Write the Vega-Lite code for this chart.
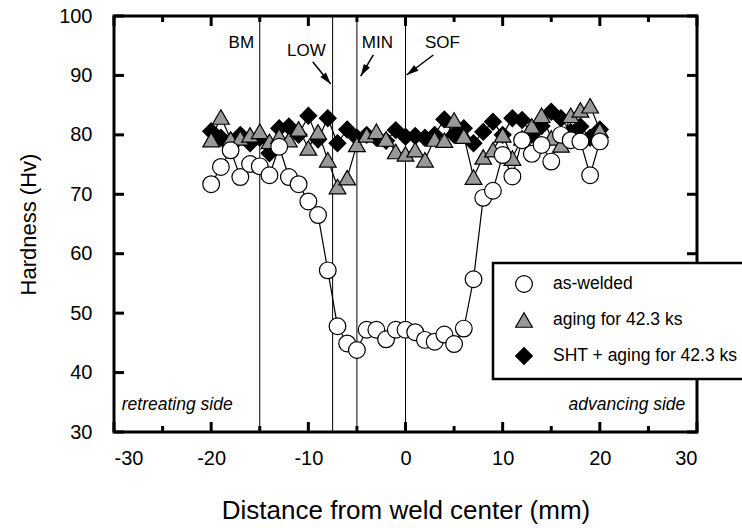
{
  "$schema": "https://vega.github.io/schema/vega-lite/v6.json",
  "width": 583,
  "height": 416,
  "autosize": {"type": "none"},
  "padding": {"left": 114, "top": 16, "right": 45, "bottom": 96},
  "background": "white",
  "config": {
    "font": "Liberation Sans",
    "view": {"stroke": "black", "strokeWidth": 3},
    "legend": {"strokeWidth": 2.5},
    "axis": {
      "domain": false, "grid": false, "ticks": false,
      "labelColor": "black", "titleColor": "black", "labelFont": "Liberation Sans",
      "titleFont": "Liberation Sans", "titleFontWeight": "normal", "labelFontSize": 20, "titleFontSize": 23
    }
  },
  "datasets": {
    "hardness": [
      {"series": "SHT + aging for 42.3 ks", "x": -20, "hv": 80.6},
      {"series": "SHT + aging for 42.3 ks", "x": -19, "hv": 79.5},
      {"series": "SHT + aging for 42.3 ks", "x": -18, "hv": 79.0},
      {"series": "SHT + aging for 42.3 ks", "x": -17, "hv": 80.0},
      {"series": "SHT + aging for 42.3 ks", "x": -16, "hv": 78.6},
      {"series": "SHT + aging for 42.3 ks", "x": -15, "hv": 79.5},
      {"series": "SHT + aging for 42.3 ks", "x": -14, "hv": 76.9},
      {"series": "SHT + aging for 42.3 ks", "x": -13, "hv": 81.1},
      {"series": "SHT + aging for 42.3 ks", "x": -12, "hv": 81.4},
      {"series": "SHT + aging for 42.3 ks", "x": -11, "hv": 80.0},
      {"series": "SHT + aging for 42.3 ks", "x": -10, "hv": 83.2},
      {"series": "SHT + aging for 42.3 ks", "x": -9, "hv": 79.2},
      {"series": "SHT + aging for 42.3 ks", "x": -8, "hv": 82.8},
      {"series": "SHT + aging for 42.3 ks", "x": -7, "hv": 78.6},
      {"series": "SHT + aging for 42.3 ks", "x": -6, "hv": 80.9},
      {"series": "SHT + aging for 42.3 ks", "x": -5, "hv": 79.5},
      {"series": "SHT + aging for 42.3 ks", "x": -4, "hv": 80.0},
      {"series": "SHT + aging for 42.3 ks", "x": -3, "hv": 79.5},
      {"series": "SHT + aging for 42.3 ks", "x": -2, "hv": 79.0},
      {"series": "SHT + aging for 42.3 ks", "x": -1, "hv": 80.8},
      {"series": "SHT + aging for 42.3 ks", "x": 0, "hv": 79.7},
      {"series": "SHT + aging for 42.3 ks", "x": 1, "hv": 79.8},
      {"series": "SHT + aging for 42.3 ks", "x": 2, "hv": 79.5},
      {"series": "SHT + aging for 42.3 ks", "x": 3, "hv": 80.0},
      {"series": "SHT + aging for 42.3 ks", "x": 4, "hv": 82.6},
      {"series": "SHT + aging for 42.3 ks", "x": 5, "hv": 80.0},
      {"series": "SHT + aging for 42.3 ks", "x": 6, "hv": 81.1},
      {"series": "SHT + aging for 42.3 ks", "x": 7, "hv": 78.6},
      {"series": "SHT + aging for 42.3 ks", "x": 8, "hv": 80.5},
      {"series": "SHT + aging for 42.3 ks", "x": 9, "hv": 82.2},
      {"series": "SHT + aging for 42.3 ks", "x": 10, "hv": 80.0},
      {"series": "SHT + aging for 42.3 ks", "x": 11, "hv": 82.8},
      {"series": "SHT + aging for 42.3 ks", "x": 12, "hv": 82.5},
      {"series": "SHT + aging for 42.3 ks", "x": 13, "hv": 80.0},
      {"series": "SHT + aging for 42.3 ks", "x": 14, "hv": 81.5},
      {"series": "SHT + aging for 42.3 ks", "x": 15, "hv": 83.9},
      {"series": "SHT + aging for 42.3 ks", "x": 16, "hv": 82.8},
      {"series": "SHT + aging for 42.3 ks", "x": 17, "hv": 80.5},
      {"series": "SHT + aging for 42.3 ks", "x": 18, "hv": 81.4},
      {"series": "SHT + aging for 42.3 ks", "x": 19, "hv": 79.5},
      {"series": "SHT + aging for 42.3 ks", "x": 20, "hv": 80.9},
      {"series": "aging for 42.3 ks", "x": -20, "hv": 79.2},
      {"series": "aging for 42.3 ks", "x": -19, "hv": 83.0},
      {"series": "aging for 42.3 ks", "x": -18, "hv": 79.3},
      {"series": "aging for 42.3 ks", "x": -17, "hv": 79.5},
      {"series": "aging for 42.3 ks", "x": -16, "hv": 80.0},
      {"series": "aging for 42.3 ks", "x": -15, "hv": 80.6},
      {"series": "aging for 42.3 ks", "x": -14, "hv": 78.9},
      {"series": "aging for 42.3 ks", "x": -13, "hv": 79.8},
      {"series": "aging for 42.3 ks", "x": -12, "hv": 79.2},
      {"series": "aging for 42.3 ks", "x": -11, "hv": 81.0},
      {"series": "aging for 42.3 ks", "x": -10, "hv": 77.8},
      {"series": "aging for 42.3 ks", "x": -9, "hv": 80.5},
      {"series": "aging for 42.3 ks", "x": -8, "hv": 75.8},
      {"series": "aging for 42.3 ks", "x": -7, "hv": 71.3},
      {"series": "aging for 42.3 ks", "x": -6, "hv": 72.8},
      {"series": "aging for 42.3 ks", "x": -5, "hv": 78.4},
      {"series": "aging for 42.3 ks", "x": -4, "hv": 80.0},
      {"series": "aging for 42.3 ks", "x": -3, "hv": 80.6},
      {"series": "aging for 42.3 ks", "x": -2, "hv": 79.3},
      {"series": "aging for 42.3 ks", "x": -1, "hv": 77.2},
      {"series": "aging for 42.3 ks", "x": 0, "hv": 76.8},
      {"series": "aging for 42.3 ks", "x": 1, "hv": 77.5},
      {"series": "aging for 42.3 ks", "x": 2, "hv": 75.8},
      {"series": "aging for 42.3 ks", "x": 3, "hv": 79.3},
      {"series": "aging for 42.3 ks", "x": 4, "hv": 79.1},
      {"series": "aging for 42.3 ks", "x": 5, "hv": 82.5},
      {"series": "aging for 42.3 ks", "x": 6, "hv": 79.8},
      {"series": "aging for 42.3 ks", "x": 7, "hv": 72.9},
      {"series": "aging for 42.3 ks", "x": 8, "hv": 76.3},
      {"series": "aging for 42.3 ks", "x": 9, "hv": 77.5},
      {"series": "aging for 42.3 ks", "x": 10, "hv": 80.0},
      {"series": "aging for 42.3 ks", "x": 11, "hv": 76.1},
      {"series": "aging for 42.3 ks", "x": 12, "hv": 79.5},
      {"series": "aging for 42.3 ks", "x": 13, "hv": 81.5},
      {"series": "aging for 42.3 ks", "x": 14, "hv": 83.3},
      {"series": "aging for 42.3 ks", "x": 15, "hv": 79.5},
      {"series": "aging for 42.3 ks", "x": 16, "hv": 78.3},
      {"series": "aging for 42.3 ks", "x": 17, "hv": 83.3},
      {"series": "aging for 42.3 ks", "x": 18, "hv": 84.2},
      {"series": "aging for 42.3 ks", "x": 19, "hv": 84.9},
      {"series": "aging for 42.3 ks", "x": 20, "hv": 80.8},
      {"series": "as-welded", "x": -20, "hv": 71.7},
      {"series": "as-welded", "x": -19, "hv": 74.6},
      {"series": "as-welded", "x": -18, "hv": 77.4},
      {"series": "as-welded", "x": -17, "hv": 72.9},
      {"series": "as-welded", "x": -16, "hv": 75.1},
      {"series": "as-welded", "x": -15, "hv": 74.7},
      {"series": "as-welded", "x": -14, "hv": 73.2},
      {"series": "as-welded", "x": -13, "hv": 78.0},
      {"series": "as-welded", "x": -12, "hv": 72.9},
      {"series": "as-welded", "x": -11, "hv": 71.7},
      {"series": "as-welded", "x": -10, "hv": 68.8},
      {"series": "as-welded", "x": -9, "hv": 66.5},
      {"series": "as-welded", "x": -8, "hv": 57.2},
      {"series": "as-welded", "x": -7, "hv": 47.8},
      {"series": "as-welded", "x": -6, "hv": 44.9},
      {"series": "as-welded", "x": -5, "hv": 43.8},
      {"series": "as-welded", "x": -4, "hv": 47.2},
      {"series": "as-welded", "x": -3, "hv": 47.2},
      {"series": "as-welded", "x": -2, "hv": 45.6},
      {"series": "as-welded", "x": -1, "hv": 47.2},
      {"series": "as-welded", "x": 0, "hv": 47.2},
      {"series": "as-welded", "x": 1, "hv": 46.8},
      {"series": "as-welded", "x": 2, "hv": 45.5},
      {"series": "as-welded", "x": 3, "hv": 45.2},
      {"series": "as-welded", "x": 4, "hv": 46.4},
      {"series": "as-welded", "x": 5, "hv": 44.8},
      {"series": "as-welded", "x": 6, "hv": 47.4},
      {"series": "as-welded", "x": 7, "hv": 55.7},
      {"series": "as-welded", "x": 8, "hv": 69.4},
      {"series": "as-welded", "x": 9, "hv": 70.6},
      {"series": "as-welded", "x": 10, "hv": 76.6},
      {"series": "as-welded", "x": 11, "hv": 73.0},
      {"series": "as-welded", "x": 12, "hv": 79.1},
      {"series": "as-welded", "x": 13, "hv": 76.8},
      {"series": "as-welded", "x": 14, "hv": 78.3},
      {"series": "as-welded", "x": 15, "hv": 75.5},
      {"series": "as-welded", "x": 16, "hv": 80.0},
      {"series": "as-welded", "x": 17, "hv": 79.1},
      {"series": "as-welded", "x": 18, "hv": 78.9},
      {"series": "as-welded", "x": 19, "hv": 73.2},
      {"series": "as-welded", "x": 20, "hv": 78.9}
    ],
    "xmajor": [{"v": -30}, {"v": -20}, {"v": -10}, {"v": 0}, {"v": 10}, {"v": 20}, {"v": 30}],
    "xminor": [{"v": -25}, {"v": -15}, {"v": -5}, {"v": 5}, {"v": 15}, {"v": 25}],
    "ymajor": [{"v": 30}, {"v": 40}, {"v": 50}, {"v": 60}, {"v": 70}, {"v": 80}, {"v": 90}, {"v": 100}],
    "zones": [{"x": -15}, {"x": -7.5}, {"x": -5}, {"x": 0}],
    "zonelabels": [
      {"text": "BM", "x": -16.9, "y": 95.5},
      {"text": "LOW", "x": -10.2, "y": 94.1},
      {"text": "MIN", "x": -2.9, "y": 95.5},
      {"text": "SOF", "x": 3.8, "y": 95.5}
    ],
    "arrows": [
      {"x": -9.55, "y": 92.3, "x2": -7.7, "y2": 88.56, "angle": 141},
      {"x": -3.31, "y": 93.44, "x2": -4.61, "y2": 89.9, "angle": 211},
      {"x": 2.86, "y": 93.44, "x2": 0.12, "y2": 90.07, "angle": 233}
    ]
  },
  "layer": [
    {
      "data": {"name": "zones"},
      "mark": {"type": "rule", "color": "black", "strokeWidth": 1},
      "encoding": {
        "x": {
          "field": "x", "type": "quantitative",
          "scale": {"domain": [-30, 30], "nice": false, "zero": false},
          "axis": {
            "orient": "bottom",
            "values": [-30, -20, -10, 0, 10, 20, 30],
            "labelExpr": "'' + datum.value",
            "labelPadding": 16,
            "title": "Distance from weld center (mm)",
            "titleFontSize": 26,
            "titlePadding": 29
          }
        }
      }
    },
    {
      "data": {"name": "hardness"},
      "mark": {"type": "line", "color": "black", "strokeWidth": 1.2},
      "encoding": {
        "x": {"field": "x", "type": "quantitative", "scale": {"domain": [-30, 30], "nice": false, "zero": false}, "axis": null},
        "y": {
          "field": "hv", "type": "quantitative",
          "scale": {"domain": [30, 100], "nice": false, "zero": false},
          "axis": {
            "orient": "left",
            "values": [30, 40, 50, 60, 70, 80, 90, 100],
            "labelPadding": 22,
            "title": "Hardness (Hv)",
            "titleFontSize": 22,
            "titlePadding": 18
          }
        },
        "detail": {"field": "series", "type": "nominal"}
      }
    },
    {
      "data": {"name": "hardness"},
      "mark": {"type": "point", "filled": true, "strokeWidth": 1.2, "opacity": 1, "size": 280},
      "encoding": {
        "x": {"field": "x", "type": "quantitative", "scale": {"domain": [-30, 30], "nice": false, "zero": false}, "axis": null},
        "y": {"field": "hv", "type": "quantitative", "scale": {"domain": [30, 100], "nice": false, "zero": false}, "axis": null},
        "shape": {
          "field": "series", "type": "nominal",
          "scale": {"domain": ["as-welded", "aging for 42.3 ks", "SHT + aging for 42.3 ks"], "range": ["circle", "triangle-up", "diamond"]},
          "legend": {
            "orient": "none", "legendX": 379, "legendY": 247, "title": null,
            "fillColor": "white", "strokeColor": "black", "padding": 12, "symbolOffset": 10,
            "labelFont": "Liberation Sans", "labelFontSize": 17.5, "labelColor": "black", "labelOffset": 20, "labelLimit": 400,
            "rowPadding": 15, "symbolSize": 280, "symbolStrokeWidth": 1.2, "symbolOpacity": 1
          }
        },
        "fill": {
          "field": "series", "type": "nominal",
          "scale": {"domain": ["as-welded", "aging for 42.3 ks", "SHT + aging for 42.3 ks"], "range": ["white", "#999999", "black"]},
          "legend": {
            "orient": "none", "legendX": 379, "legendY": 247, "title": null,
            "fillColor": "white", "strokeColor": "black", "padding": 12, "symbolOffset": 10,
            "labelFont": "Liberation Sans", "labelFontSize": 17.5, "labelColor": "black", "labelOffset": 20, "labelLimit": 400,
            "rowPadding": 15, "symbolSize": 280, "symbolStrokeWidth": 1.2, "symbolOpacity": 1
          }
        },
        "stroke": {
          "field": "series", "type": "nominal",
          "scale": {"domain": ["as-welded", "aging for 42.3 ks", "SHT + aging for 42.3 ks"], "range": ["black", "black", "black"]},
          "legend": {
            "orient": "none", "legendX": 379, "legendY": 247, "title": null,
            "fillColor": "white", "strokeColor": "black", "padding": 12, "symbolOffset": 10,
            "labelFont": "Liberation Sans", "labelFontSize": 17.5, "labelColor": "black", "labelOffset": 20, "labelLimit": 400,
            "rowPadding": 15, "symbolSize": 280, "symbolStrokeWidth": 1.2, "symbolOpacity": 1
          }
        }
      }
    },
    {
      "data": {"name": "xmajor"},
      "mark": {"type": "point", "shape": "M-0.3,0L0.3,0L0.3,-2L-0.3,-2Z", "filled": true, "color": "black", "opacity": 1, "size": 100},
      "encoding": {
        "x": {"field": "v", "type": "quantitative", "scale": {"domain": [-30, 30], "nice": false, "zero": false}, "axis": null},
        "y": {"datum": 30, "type": "quantitative", "scale": {"domain": [30, 100], "nice": false, "zero": false}, "axis": null}
      }
    },
    {
      "data": {"name": "xmajor"},
      "mark": {"type": "point", "shape": "M-0.3,0L0.3,0L0.3,2L-0.3,2Z", "filled": true, "color": "black", "opacity": 1, "size": 100},
      "encoding": {
        "x": {"field": "v", "type": "quantitative", "scale": {"domain": [-30, 30], "nice": false, "zero": false}, "axis": null},
        "y": {"datum": 100, "type": "quantitative", "scale": {"domain": [30, 100], "nice": false, "zero": false}, "axis": null}
      }
    },
    {
      "data": {"name": "xminor"},
      "mark": {"type": "point", "shape": "M-0.5,0L0.5,0L0.5,-2L-0.5,-2Z", "filled": true, "color": "black", "opacity": 1, "size": 36},
      "encoding": {
        "x": {"field": "v", "type": "quantitative", "scale": {"domain": [-30, 30], "nice": false, "zero": false}, "axis": null},
        "y": {"datum": 30, "type": "quantitative", "scale": {"domain": [30, 100], "nice": false, "zero": false}, "axis": null}
      }
    },
    {
      "data": {"name": "xminor"},
      "mark": {"type": "point", "shape": "M-0.5,0L0.5,0L0.5,2L-0.5,2Z", "filled": true, "color": "black", "opacity": 1, "size": 36},
      "encoding": {
        "x": {"field": "v", "type": "quantitative", "scale": {"domain": [-30, 30], "nice": false, "zero": false}, "axis": null},
        "y": {"datum": 100, "type": "quantitative", "scale": {"domain": [30, 100], "nice": false, "zero": false}, "axis": null}
      }
    },
    {
      "data": {"name": "ymajor"},
      "mark": {"type": "point", "shape": "M0,-0.3L2,-0.3L2,0.3L0,0.3Z", "filled": true, "color": "black", "opacity": 1, "size": 100},
      "encoding": {
        "x": {"datum": -30, "type": "quantitative", "scale": {"domain": [-30, 30], "nice": false, "zero": false}, "axis": null},
        "y": {"field": "v", "type": "quantitative", "scale": {"domain": [30, 100], "nice": false, "zero": false}, "axis": null}
      }
    },
    {
      "data": {"name": "ymajor"},
      "mark": {"type": "point", "shape": "M0,-0.3L-2,-0.3L-2,0.3L0,0.3Z", "filled": true, "color": "black", "opacity": 1, "size": 100},
      "encoding": {
        "x": {"datum": 30, "type": "quantitative", "scale": {"domain": [-30, 30], "nice": false, "zero": false}, "axis": null},
        "y": {"field": "v", "type": "quantitative", "scale": {"domain": [30, 100], "nice": false, "zero": false}, "axis": null}
      }
    },
    {
      "data": {"name": "zonelabels"},
      "mark": {"type": "text", "fontSize": 17, "font": "Liberation Sans", "color": "black", "align": "center", "baseline": "middle"},
      "encoding": {
        "x": {"field": "x", "type": "quantitative", "scale": {"domain": [-30, 30], "nice": false, "zero": false}, "axis": null},
        "y": {"field": "y", "type": "quantitative", "scale": {"domain": [30, 100], "nice": false, "zero": false}, "axis": null},
        "text": {"field": "text", "type": "nominal"}
      }
    },
    {
      "data": {"name": "arrows"},
      "mark": {"type": "rule", "color": "black", "strokeWidth": 1.5},
      "encoding": {
        "x": {"field": "x", "type": "quantitative", "scale": {"domain": [-30, 30], "nice": false, "zero": false}, "axis": null},
        "y": {"field": "y", "type": "quantitative", "scale": {"domain": [30, 100], "nice": false, "zero": false}, "axis": null},
        "x2": {"field": "x2"},
        "y2": {"field": "y2"}
      }
    },
    {
      "data": {"name": "arrows"},
      "mark": {"type": "point", "shape": "M0,0L-0.6,2L0.6,2Z", "filled": true, "color": "black", "opacity": 1, "size": 144},
      "encoding": {
        "x": {"field": "x2", "type": "quantitative", "scale": {"domain": [-30, 30], "nice": false, "zero": false}, "axis": null},
        "y": {"field": "y2", "type": "quantitative", "scale": {"domain": [30, 100], "nice": false, "zero": false}, "axis": null},
        "angle": {"field": "angle", "type": "quantitative", "scale": null}
      }
    },
    {
      "data": {"values": [{"text": "retreating side", "x": -29.2, "y": 34.5}]},
      "mark": {"type": "text", "fontSize": 17.5, "fontStyle": "italic", "font": "Liberation Sans", "color": "black", "align": "left", "baseline": "middle"},
      "encoding": {
        "x": {"field": "x", "type": "quantitative", "scale": {"domain": [-30, 30], "nice": false, "zero": false}, "axis": null},
        "y": {"field": "y", "type": "quantitative", "scale": {"domain": [30, 100], "nice": false, "zero": false}, "axis": null},
        "text": {"field": "text", "type": "nominal"}
      }
    },
    {
      "data": {"values": [{"text": "advancing side", "x": 28.8, "y": 34.5}]},
      "mark": {"type": "text", "fontSize": 17.5, "fontStyle": "italic", "font": "Liberation Sans", "color": "black", "align": "right", "baseline": "middle"},
      "encoding": {
        "x": {"field": "x", "type": "quantitative", "scale": {"domain": [-30, 30], "nice": false, "zero": false}, "axis": null},
        "y": {"field": "y", "type": "quantitative", "scale": {"domain": [30, 100], "nice": false, "zero": false}, "axis": null},
        "text": {"field": "text", "type": "nominal"}
      }
    }
  ],
  "resolve": {"axis": {"x": "independent", "y": "independent"}}
}
